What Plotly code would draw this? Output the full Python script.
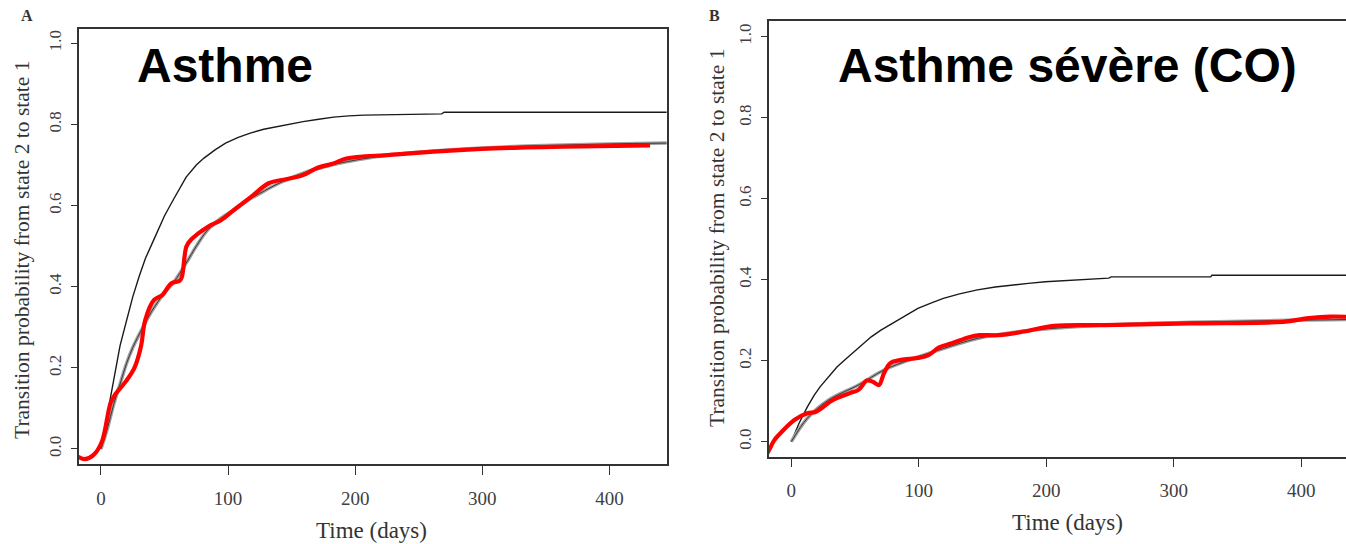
import plotly.graph_objects as go

W, H = 1346, 544

# ---------------- Panel A (Asthme) ----------------
a_upper_t = [0, 5, 10, 15, 20, 25, 30, 35, 40, 45, 50, 57, 62, 67, 75, 81, 90, 98, 108, 118,
             128, 139, 150, 159, 170, 183, 195, 207, 268, 270, 445]
a_upper_p = [0, 0.085, 0.18, 0.255, 0.315, 0.375, 0.425, 0.47, 0.505, 0.54, 0.575, 0.615, 0.643,
             0.67, 0.70, 0.717, 0.738, 0.754, 0.768, 0.779, 0.788, 0.795, 0.802, 0.807, 0.812,
             0.818, 0.821, 0.823, 0.826, 0.83, 0.83]

a_model_t = [0, 5, 10, 15, 20, 25, 33, 40, 50, 57, 67, 75, 84, 95, 105, 115, 125, 140, 159, 175,
             193, 210, 227, 260, 296, 330, 364, 400, 445]
a_model_p = [0, 0.05, 0.11, 0.16, 0.21, 0.25, 0.30, 0.34, 0.385, 0.41, 0.458, 0.50, 0.54, 0.57,
             0.59, 0.612, 0.63, 0.655, 0.68, 0.695, 0.708, 0.717, 0.725, 0.734, 0.741, 0.746,
             0.749, 0.752, 0.754]

a_red_t = [-18, -13, -6, 0.7, 7.5, 10.9, 19.4, 26.3, 31.4, 34.8, 41.6, 48.4, 55.2, 62, 63.7, 67.2,
           70.6, 84.2, 94.4, 104.6, 118.3, 132, 145.6, 159, 169.5, 183, 193, 227.4, 261.6, 295.7,
           329.8, 364, 432]
a_red_p = [-0.019, -0.025, -0.015, 0.018, 0.113, 0.133, 0.166, 0.2, 0.252, 0.318, 0.367, 0.38,
           0.408, 0.415, 0.425, 0.499, 0.515, 0.548, 0.564, 0.589, 0.622, 0.655, 0.665, 0.675,
           0.692, 0.704, 0.716, 0.725, 0.733, 0.739, 0.743, 0.745, 0.748]

# ---------------- Panel B (Asthme sévère (CO)) ----------------
b_upper_t = [0, 6, 12.6, 18, 22.7, 30, 36, 43, 49.4, 56, 62.7, 70, 79.3, 90, 99.3, 110, 119.3, 132,
             146, 160, 172.7, 186, 199.3, 215, 229, 249, 251, 329, 330, 445]
b_upper_p = [0, 0.045, 0.086, 0.115, 0.136, 0.163, 0.185, 0.205, 0.222, 0.241, 0.259, 0.275, 0.292,
             0.312, 0.329, 0.343, 0.354, 0.365, 0.375, 0.382, 0.387, 0.391, 0.395, 0.398, 0.401,
             0.404, 0.407, 0.407, 0.411, 0.411]

b_model_t = [0, 12.6, 29.3, 52.7, 72.7, 92.7, 119.3, 146, 179.3, 206, 246, 312.7, 379, 445]
b_model_p = [0, 0.058, 0.103, 0.14, 0.177, 0.202, 0.23, 0.255, 0.272, 0.28, 0.288, 0.295, 0.299,
             0.302]

b_red_t = [-21.6, -17.3, -13.3, -7.3, 2.7, 12.6, 19.4, 32.7, 46, 52.7, 59.4, 64, 68.7, 72.7, 77.7,
           86, 99.3, 107.7, 116, 126, 139.4, 147.7, 162.7, 182.6, 206, 246, 312.7, 385.8, 406,
           422.7, 440]
b_red_p = [-0.0435, -0.02, 0.004, 0.025, 0.054, 0.07, 0.074, 0.103, 0.12, 0.128, 0.151, 0.148,
           0.14, 0.169, 0.194, 0.202, 0.207, 0.214, 0.233, 0.243, 0.258, 0.263, 0.263, 0.272,
           0.286, 0.288, 0.292, 0.296, 0.305, 0.309, 0.308]

x_ticks = [0, 100, 200, 300, 400]
y_ticks = [0.0, 0.2, 0.4, 0.6, 0.8, 1.0]

panel_titles = ["Asthme", "Asthme sévère (CO)"]
panel_letters = ["A", "B"]
x_title = "Time (days)"
y_title = "Transition probability from state 2 to state 1"

fig = go.Figure()


def add_panel(xa, ya, upper_t, upper_p, model_t, model_p, red_t, red_p):
    fig.add_trace(go.Scatter(x=upper_t, y=upper_p, mode="lines", xaxis=xa, yaxis=ya,
                             line=dict(color="#1a1a1a", width=1.4), showlegend=False))
    fig.add_trace(go.Scatter(x=model_t, y=model_p, mode="lines", xaxis=xa, yaxis=ya,
                             line=dict(color="#a0a0a0", width=3.5, shape="spline"),
                             showlegend=False))
    fig.add_trace(go.Scatter(x=model_t, y=model_p, mode="lines", xaxis=xa, yaxis=ya,
                             line=dict(color="#3a3a3a", width=1, shape="spline"),
                             showlegend=False))
    fig.add_trace(go.Scatter(x=red_t, y=red_p, mode="lines", xaxis=xa, yaxis=ya,
                             line=dict(color="#ff0000", width=4.2, shape="spline"),
                             showlegend=False))


add_panel("x", "y", a_upper_t, a_upper_p, a_model_t, a_model_p, a_red_t, a_red_p)
add_panel("x2", "y2", b_upper_t, b_upper_p, b_model_t, b_model_p, b_red_t, b_red_p)

serif = "Liberation Serif, Times New Roman, serif"
ytick_font = dict(family=serif, size=17, color="#404040")
xtick_font = dict(family=serif, size=19, color="#404040")
frame_col = "#333333"

common_x = dict(tickvals=x_ticks, ticktext=[str(v) for v in x_ticks], ticks="outside", ticklen=9,
                tickwidth=1.3, tickcolor=frame_col, showline=True, linecolor=frame_col,
                linewidth=1.5, mirror=True, showgrid=False, zeroline=False, tickfont=xtick_font,
                ticklabelstandoff=7)
common_y = dict(tickvals=y_ticks, ticktext=["%.1f" % v for v in y_ticks], ticks="outside",
                ticklen=6, tickwidth=1.3, tickcolor=frame_col, showline=True, linecolor=frame_col,
                linewidth=1.5, showgrid=False, zeroline=False, tickfont=ytick_font, tickangle=-90,
                ticklabelstandoff=3)


def px_x(v):
    return v / W


def px_y(v):
    return 1 - v / H


fig.update_layout(
    width=W, height=H, autosize=False,
    margin=dict(l=0, r=0, t=0, b=0),
    paper_bgcolor="white", plot_bgcolor="white",
    xaxis=dict(domain=[px_x(79), px_x(667)], range=[-17.3, 445.3], anchor="y", **common_x),
    yaxis=dict(domain=[px_y(464), px_y(29)], range=[-0.037, 1.0352], anchor="x", mirror=True,
               **common_y),
    xaxis2=dict(domain=[px_x(769), 1.0], range=[-17.5, 435.2], anchor="y2", **common_x),
    yaxis2=dict(domain=[px_y(456.7), px_y(21)], range=[-0.037, 1.0388], anchor="x2", mirror=False,
                **common_y),
)

xlabel_font = dict(family=serif, size=23, color="#333333")
ylabel_font = dict(family=serif, size=21.5, color="#333333")
title_font = dict(family="Liberation Sans, Arial, sans-serif", size=48, color="#000000")
letter_font = dict(family=serif, size=16, color="#333333")

annots = [
    # big panel titles
    dict(x=px_x(225), y=px_y(65), text="<b>%s</b>" % panel_titles[0], font=title_font),
    dict(x=px_x(1067.5), y=px_y(65), text="<b>%s</b>" % panel_titles[1], font=title_font),
    # panel letters
    dict(x=px_x(27), y=px_y(15), text="<b>%s</b>" % panel_letters[0], font=letter_font),
    dict(x=px_x(714), y=px_y(15), text="<b>%s</b>" % panel_letters[1], font=letter_font),
    # axis titles
    dict(x=px_x(371), y=px_y(530), text=x_title, font=xlabel_font),
    dict(x=px_x(1067), y=px_y(522), text=x_title, font=xlabel_font),
    dict(x=px_x(22), y=px_y(250), text=y_title, font=ylabel_font, textangle=-90),
    dict(x=px_x(717), y=px_y(238), text=y_title, font=ylabel_font, textangle=-90),
]
for a in annots:
    a.update(xref="paper", yref="paper", showarrow=False, xanchor="center", yanchor="middle")
fig.update_layout(annotations=annots)

fig.write_html("out.html")
